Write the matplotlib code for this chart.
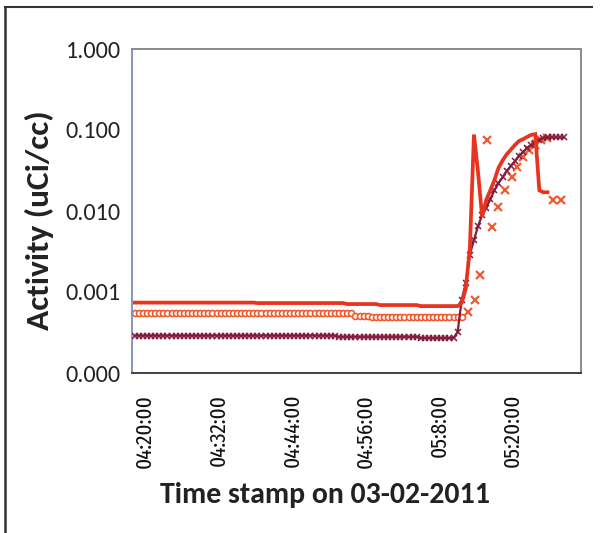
import numpy as np
import pandas as pd
import matplotlib
matplotlib.use("Agg")
import matplotlib.pyplot as plt
from matplotlib.lines import Line2D
from matplotlib.ticker import FixedLocator, FixedFormatter

# Sampling grid: readings every 40 s starting 04:18:20 (minutes after 04:00)
stamps = pd.date_range("2011-03-02 04:18:20", periods=106, freq="40s")
minutes = np.array([(s.hour - 4) * 60 + s.minute + s.second / 60 for s in stamps])

# Channel A (solid red line)
chan_a = ([7.4e-4] * 30 + [7.3e-4] * 22 + [7.1e-4] * 8 + [6.9e-4] * 10 +
          [6.7e-4] * 10 +
          [7.3e-4, 1.1e-3, 3.5e-3, 8.8e-2, 3.0e-2, 8.5e-3, 1.37e-2, 1.8e-2,
           2.4e-2, 3.4e-2, 4.2e-2, 5.0e-2, 5.7e-2, 6.5e-2, 7.3e-2, 7.7e-2,
           8.2e-2, 8.7e-2, 8.9e-2, 1.8e-2, 1.7e-2, 1.7e-2] +
          [np.nan] * 4)

# Channel B (dark line with crosses)
chan_b = ([2.9e-4] * 50 + [2.8e-4] * 20 + [2.7e-4] * 9 +
          [3.2e-4, 8.0e-4, 1.3e-3, 2.9e-3, 4.4e-3, 6.5e-3, 8.9e-3, 1.1e-2,
           1.4e-2, 1.8e-2, 2.2e-2, 2.6e-2, 3.1e-2, 3.6e-2, 4.1e-2, 4.8e-2,
           5.3e-2, 6.0e-2, 6.5e-2, 6.9e-2, 7.5e-2, 8.0e-2, 8.1e-2, 8.1e-2,
           8.1e-2, 8.1e-2, 8.1e-2])

# Channel C baseline (open circles) on the 40 s grid
chan_c_base = [5.5e-4] * 54 + [5.1e-4] * 4 + [4.9e-4] * 23

# Channel C during the release (crosses, ~1 min readings)
chan_c_minutes = [72.7, 73.8, 74.7, 75.8, 76.6, 77.6, 78.7, 79.9,
                  80.7, 81.7, 82.6, 83.6, 84.6, 85.6, 86.6, 87.9]
chan_c_rise = [5.7e-4, 8.0e-4, 1.6e-3, 7.5e-2, 6.3e-3, 1.12e-2, 1.8e-2, 2.6e-2,
               3.5e-2, 4.6e-2, 5.6e-2, 6.5e-2, 7.5e-2, 8.0e-2, 1.37e-2, 1.37e-2]

# Axis labelling
tick_minutes = [20, 32, 44, 56, 68, 80]
tick_labels = ["04:20:00", "04:32:00", "04:44:00", "04:56:00", "05:8:00", "05:20:00"]
y_ticks = [1e-4, 1e-3, 1e-2, 1e-1, 1.0]
y_labels = ["0.000", "0.001", "0.010", "0.100", "1.000"]

RED = "#E8341E"
ORANGE = "#EF5A2E"
DARK = "#861C3C"
TEXT = "#222222"
MAIN_FONT = ["Carlito", "DejaVu Sans"]
NARROW_FONT = ["Fira Sans Extra Condensed", "PT Sans Narrow", "DejaVu Sans"]

W, H = 610, 533
fig = plt.figure(figsize=(W / 100, H / 100), dpi=100)
fig.patch.set_facecolor("white")
ax = fig.add_axes([132 / W, 1 - 373 / H, (581 - 132) / W, (373 - 49) / H])

ax.plot(minutes[:len(chan_c_base)], chan_c_base, linestyle="none", marker="o",
        ms=4.3, mfc="white", mec=ORANGE, mew=1.2, zorder=2)
ax.plot(chan_c_minutes, chan_c_rise, linestyle="none", marker="x",
        ms=5.5, mec=ORANGE, mew=1.6, zorder=2)
ax.plot(minutes, chan_b, color=DARK, lw=1.6, marker="x", ms=4.5, mew=1.1,
        zorder=3)
ax.plot(minutes, chan_a, color=RED, lw=2.7, zorder=4, solid_joinstyle="miter")

ax.set_yscale("log")
ax.set_ylim(1e-4, 1.0)
ax.set_xlim(17.88, 91.13)
ax.yaxis.set_major_locator(FixedLocator(y_ticks))
ax.yaxis.set_major_formatter(FixedFormatter(y_labels))
ax.yaxis.set_minor_locator(FixedLocator([]))
ax.set_xticks(tick_minutes)
ax.set_xticklabels(tick_labels, rotation=90, fontsize=16.5, family=NARROW_FONT)
for lbl in ax.get_yticklabels():
    lbl.set_family(MAIN_FONT)
    lbl.set_fontsize(17.5)
ax.tick_params(axis="x", length=0, pad=15, colors="#111111")
ax.tick_params(axis="y", length=0, pad=8, colors=TEXT)

ax.spines["left"].set_color("#7F8DBF")
ax.spines["left"].set_linewidth(1.3)
ax.spines["bottom"].set_color("#333333")
ax.spines["bottom"].set_linewidth(1.3)
for side in ("top", "right"):
    ax.spines[side].set_color("#8A8A8A")
    ax.spines[side].set_linewidth(1.4)

fig.text(39 / W, 1 - 220 / H, "Activity (uCi/cc)", rotation=90, ha="center",
         va="center", fontsize=24, fontweight="bold", color=TEXT,
         family=MAIN_FONT)
fig.text(325 / W, 1 - 495 / H, "Time stamp on 03-02-2011", ha="center",
         va="center", fontsize=21.5, fontweight="bold", color=TEXT,
         family=MAIN_FONT)

# Page frame
fig.add_artist(Line2D([5 / W, 592 / W], [1 - 7 / H, 1 - 7 / H],
                      transform=fig.transFigure, color="#333333", lw=1.5))
fig.add_artist(Line2D([5 / W, 5 / W], [1 - 7 / H, 0],
                      transform=fig.transFigure, color="#333333", lw=1.8))

fig.savefig("out.png", dpi=100)
